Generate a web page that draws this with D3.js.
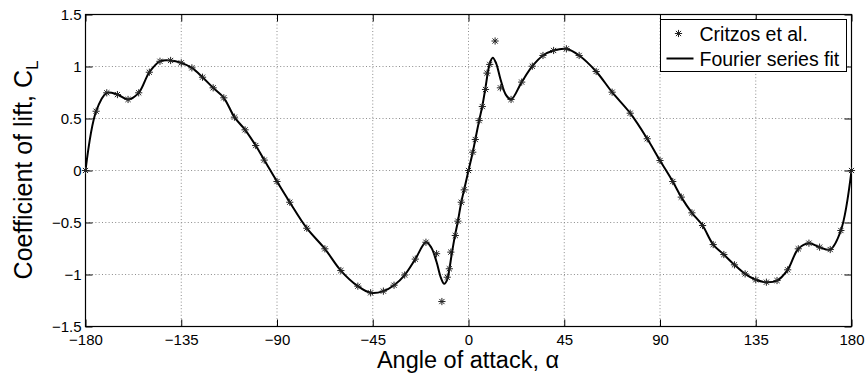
<!DOCTYPE html>
<meta charset="utf-8">
<html>
	<head>
		<title>Lift coefficient vs angle of attack</title>
		<script src="https://d3js.org/d3.v7.min.js"></script>
		<style>
			body { margin: 0; background: #fff; }
			text { font-family: "Liberation Sans", Arial, Helvetica, sans-serif; fill: #000; }
		</style>
	</head>

	<body>
		<script>
			var critzosAngle = [-180, -175, -170, -165, -160, -155, -150, -145, -140, -135, -130, -125, -120, -115, -110, -105, -100,
				-96, -90, -84, -76, -67.5, -60, -52, -46, -40, -35, -30, -25, -20,
				-15, -12.5, -10, -9, -8.3, -6.2, -5, -3.4, -2,
				0,
				2, 3.2, 5, 6.5, 8, 8.7, 10, 12.5, 15,
				20, 25, 30, 35, 40, 46, 52, 60, 67.5, 76, 84, 90, 96,
				100, 105, 110, 115, 120, 125, 130, 135, 140, 145, 150, 155, 160, 165, 170, 175, 180];
			var critzosLift = [0, 0.57, 0.747, 0.73, 0.683, 0.747, 0.945, 1.05, 1.058, 1.035, 0.987, 0.897, 0.795, 0.699, 0.513, 0.391, 0.24,
				0.10, -0.106, -0.305, -0.555, -0.753, -0.962, -1.112, -1.176, -1.16, -1.103, -1.005, -0.852, -0.69,
				-0.80, -1.26, -1.026, -0.945, -0.785, -0.625, -0.487, -0.305, -0.186,
				0,
				0.176, 0.298, 0.48, 0.615, 0.779, 0.936, 1.02, 1.245, 0.795,
				0.683, 0.85, 1.003, 1.106, 1.154, 1.17, 1.106, 0.952, 0.753, 0.551, 0.305, 0.096, -0.106,
				-0.256, -0.407, -0.529, -0.712, -0.808, -0.907, -0.994, -1.051, -1.074, -1.058, -0.955, -0.753, -0.699, -0.737, -0.76, -0.577, 0];

			//Fourier series fit, sampled along the drawn curve
			var fitAngle = [-180, -175, -170, -165, -160, -155, -150, -145, -140, -135, -130, -125, -120, -115, -110, -105, -100,
				-96, -90, -84, -76, -67.5, -60, -52, -46, -40, -35, -30, -25, -20,
				-17.5, -15, -13, -11.4, -10, -9, -8, -6.5, -5, -3.4, -2,
				0,
				2, 3.2, 5, 6.5, 8, 9, 10, 11.4, 13, 15, 17.5,
				20, 25, 30, 35, 40, 46, 52, 60, 67.5, 76, 84, 90, 96,
				100, 105, 110, 115, 120, 125, 130, 135, 140, 145, 150, 155, 160, 165, 170, 175, 180];
			var fitLift = [0, 0.57, 0.747, 0.73, 0.683, 0.747, 0.945, 1.05, 1.058, 1.035, 0.987, 0.897, 0.795, 0.699, 0.513, 0.391, 0.24,
				0.10, -0.106, -0.305, -0.555, -0.753, -0.962, -1.112, -1.176, -1.16, -1.103, -1.005, -0.852, -0.69,
				-0.74, -0.88, -1.03, -1.09, -1.05, -0.95, -0.82, -0.64, -0.49, -0.305, -0.18,
				0,
				0.176, 0.298, 0.48, 0.62, 0.80, 0.93, 1.03, 1.085, 1.03, 0.88, 0.73,
				0.683, 0.85, 1.003, 1.106, 1.154, 1.17, 1.106, 0.952, 0.753, 0.551, 0.305, 0.096, -0.106,
				-0.256, -0.407, -0.529, -0.712, -0.808, -0.907, -0.994, -1.051, -1.074, -1.058, -0.955, -0.753, -0.699, -0.737, -0.76, -0.577, 0];

			var xTicks = [-180, -135, -90, -45, 0, 45, 90, 135, 180];
			var yTicks = [-1.5, -1, -0.5, 0, 0.5, 1, 1.5];
			var legendLabels = ["Critzos et al.", "Fourier series fit"];

			var margin = {top: 14, right: 15, bottom: 48, left: 85},
				width = 866 - margin.left - margin.right,
				height = 374 - margin.top - margin.bottom;

			var minus = function(s) { return String(s).replace("-", "\u2212"); };

			var x = d3.scaleLinear().domain([-180, 180]).range([0, width]);
			var y = d3.scaleLinear().domain([-1.5, 1.5]).range([height, 0]);

			var svg = d3.select("body").append("svg")
				.attr("width", width + margin.left + margin.right)
				.attr("height", height + margin.top + margin.bottom);

			var g = svg.append("g")
				.attr("transform", "translate(" + (margin.left + 0.5) + "," + (margin.top + 0.5) + ")");

			g.append("clipPath").attr("id", "clip")
				.append("rect").attr("width", width).attr("height", height);

			//Dotted grid
			g.append("g").selectAll("line")
				.data(xTicks.slice(1, -1))
				.enter().append("line")
				.attr("x1", function(d) { return x(d); }).attr("x2", function(d) { return x(d); })
				.attr("y1", 0).attr("y2", height)
				.attr("stroke", "#8c8c8c").attr("stroke-dasharray", "1,2.3");
			g.append("g").selectAll("line")
				.data(yTicks.slice(1, -1))
				.enter().append("line")
				.attr("y1", function(d) { return y(d); }).attr("y2", function(d) { return y(d); })
				.attr("x1", 0).attr("x2", width)
				.attr("stroke", "#8c8c8c").attr("stroke-dasharray", "1,2.3");

			//Axes (ticks inside, box on)
			var tl = 7;
			g.append("g").attr("transform", "translate(0," + height + ")")
				.call(d3.axisBottom(x).tickValues(xTicks).tickSizeInner(-tl).tickSizeOuter(0).tickPadding(7.5).tickFormat(minus))
				.call(function(a) { a.selectAll("text").attr("font-size", 15).attr("font-family", null); });
			g.append("g")
				.call(d3.axisTop(x).tickValues(xTicks).tickSizeInner(-tl).tickSizeOuter(0).tickFormat(""));
			g.append("g")
				.call(d3.axisLeft(y).tickValues(yTicks).tickSizeInner(-tl).tickSizeOuter(0).tickPadding(4).tickFormat(minus))
				.call(function(a) { a.selectAll("text").attr("font-size", 15).attr("font-family", null); });
			g.append("g").attr("transform", "translate(" + width + ",0)")
				.call(d3.axisRight(y).tickValues(yTicks).tickSizeInner(-tl).tickSizeOuter(0).tickFormat(""));
			g.selectAll(".domain").remove();
			g.selectAll(".tick line").attr("stroke", "#000");

			g.append("rect")
				.attr("width", width).attr("height", height)
				.attr("fill", "none").attr("stroke", "#000").attr("stroke-width", 1.2);

			//Fourier fit line
			var fit = fitAngle.map(function(a, i) { return [a, fitLift[i]]; });
			var line = d3.line()
				.x(function(d) { return x(d[0]); })
				.y(function(d) { return y(d[1]); })
				.curve(d3.curveCatmullRom.alpha(0.5));
			g.append("path")
				.datum(fit)
				.attr("clip-path", "url(#clip)")
				.attr("fill", "none")
				.attr("stroke", "#000")
				.attr("stroke-width", 2)
				.attr("d", line);

			//Asterisk markers
			var r = 3.6, r2 = r * 0.72;
			var star = "M" + (-r) + ",0H" + r + "M0," + (-r) + "V" + r +
				"M" + (-r2) + "," + (-r2) + "L" + r2 + "," + r2 + "M" + (-r2) + "," + r2 + "L" + r2 + "," + (-r2);
			var pts = critzosAngle.map(function(a, i) { return [a, critzosLift[i]]; });
			g.append("g").selectAll("path")
				.data(pts)
				.enter().append("path")
				.attr("transform", function(d) { return "translate(" + x(d[0]) + "," + y(d[1]) + ")"; })
				.attr("d", star)
				.attr("fill", "none")
				.attr("stroke", "#222")
				.attr("stroke-width", 1);

			//Legend
			var lg = svg.append("g").attr("transform", "translate(660.5,19.5)");
			lg.append("rect").attr("width", 186).attr("height", 52)
				.attr("fill", "#fff").attr("stroke", "#000").attr("stroke-width", 1);
			lg.append("path").attr("transform", "translate(18,14)").attr("d", star)
				.attr("fill", "none").attr("stroke", "#222").attr("stroke-width", 1);
			lg.append("line").attr("x1", 6).attr("x2", 33).attr("y1", 39).attr("y2", 39)
				.attr("stroke", "#000").attr("stroke-width", 2);
			lg.selectAll("text.lab")
				.data(legendLabels)
				.enter().append("text")
				.attr("class", "lab")
				.attr("x", 39)
				.attr("y", function(d, i) { return 21 + i * 25; })
				.attr("font-size", 19.5)
				.text(function(d) { return d; });

			//Axis titles
			svg.append("text")
				.attr("x", 468).attr("y", 368)
				.attr("text-anchor", "middle")
				.attr("font-size", 23.5)
				.text("Angle of attack, \u03b1");
			var yl = svg.append("text")
				.attr("transform", "translate(32," + (margin.top + height / 2) + ") rotate(-90)")
				.attr("text-anchor", "middle")
				.attr("font-size", 25);
			yl.append("tspan").text("Coefficient of lift, C");
			yl.append("tspan").attr("font-size", 17).attr("dy", 6).text("L");
		</script>
	</body>
</html>
